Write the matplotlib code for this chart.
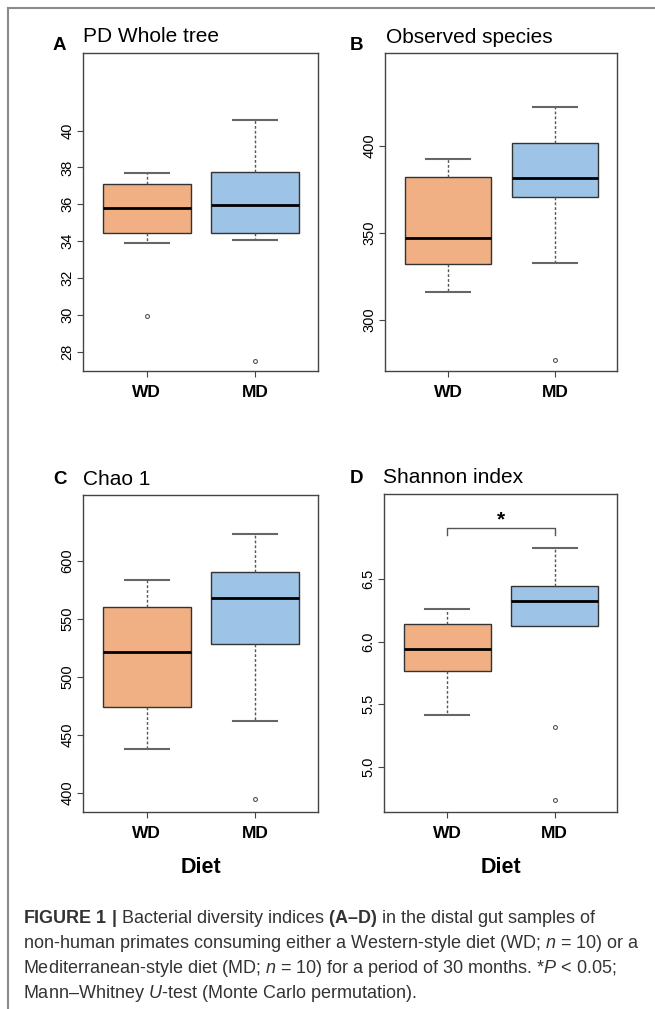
import matplotlib
matplotlib.use('Agg')
import matplotlib.pyplot as plt
from matplotlib.lines import Line2D

plt.rcParams['font.family'] = ['Liberation Sans', 'DejaVu Sans']
plt.rcParams['mathtext.fontset'] = 'custom'
plt.rcParams['mathtext.rm'] = 'Liberation Sans'
plt.rcParams['mathtext.it'] = 'Liberation Sans:italic'
plt.rcParams['mathtext.bf'] = 'Liberation Sans:bold'

# Groups
groups = ['WD', 'MD']

# Box statistics: [whislo, q1, med, q3, whishi]
pd_wd = [33.89, 34.43, 35.78, 37.08, 37.68]
pd_md = [34.05, 34.43, 35.95, 37.73, 40.59]
pd_fliers = [[29.95], [27.51]]

obs_wd = [316.1, 332.2, 347.1, 382.2, 392.5]
obs_md = [332.8, 370.7, 381.6, 401.7, 422.4]
obs_fliers = [[], [277.0]]

chao_wd = [438.0, 474.2, 521.5, 560.4, 583.5]
chao_md = [462.3, 528.1, 568.0, 590.2, 623.1]
chao_fliers = [[], [394.5]]

sh_wd = [5.417, 5.77, 5.943, 6.142, 6.261]
sh_md = [6.128, 6.128, 6.327, 6.444, 6.752]
sh_fliers = [[], [5.318, 4.735]]

# y ticks per panel
pd_ticks = [28, 30, 32, 34, 36, 38, 40]
obs_ticks = [300, 350, 400]
chao_ticks = [400, 450, 500, 550, 600]
sh_ticks = [5.0, 5.5, 6.0, 6.5]

colors = ['#F0B083', '#9DC3E6']

W, H = 655, 1009
fig = plt.figure(figsize=(W / 100, H / 100), dpi=100)


def px_axes(left, top, right, bottom):
    return fig.add_axes([left / W, 1 - bottom / H, (right - left) / W, (bottom - top) / H])


def make_stats(wd, md, fliers):
    stats = []
    for vals, fl, name in zip([wd, md], fliers, groups):
        stats.append(dict(whislo=vals[0], q1=vals[1], med=vals[2], q3=vals[3],
                          whishi=vals[4], fliers=fl, label=name))
    return stats


def draw_panel(ax, wd, md, fliers, ticks, ylim, ticklabels=None):
    stats = make_stats(wd, md, fliers)
    bp = ax.bxp(stats, positions=[1, 2], widths=0.81,
                capwidths=0.41, patch_artist=True,
                boxprops=dict(edgecolor='#333333', linewidth=1.0),
                medianprops=dict(color='black', linewidth=2.0),
                whiskerprops=dict(color='#555555', linewidth=1.0, linestyle=(0, (2, 1.5))),
                capprops=dict(color='#666666', linewidth=1.5),
                flierprops=dict(marker='o', markersize=2.8, markerfacecolor='none',
                                markeredgecolor='#555555', markeredgewidth=0.8))
    for patch, c in zip(bp['boxes'], colors):
        patch.set_facecolor(c)
    # no lower whisker when it sits on the box
    for i, s in enumerate(stats):
        if s['whislo'] >= s['q1']:
            bp['caps'][2 * i].set_visible(False)
            bp['whiskers'][2 * i].set_visible(False)
    ax.set_xlim(0.41, 2.58)
    ax.set_ylim(*ylim)
    ax.set_yticks(ticks)
    if ticklabels is not None:
        ax.set_yticklabels(ticklabels)
    ax.set_xticks([1, 2])
    ax.set_xticklabels(groups, fontsize=12.5, fontweight='bold')
    ax.tick_params(axis='y', labelrotation=90, labelsize=10.5, length=4, color='#444444', pad=2)
    ax.tick_params(axis='x', length=4, color='#444444', pad=6)
    for lab in ax.get_yticklabels():
        lab.set_va('center')
    for sp in ax.spines.values():
        sp.set_color('#444444')
        sp.set_linewidth(1.0)


# Panels
axA = px_axes(83, 53, 318, 371)
draw_panel(axA, pd_wd, pd_md, pd_fliers, pd_ticks, (26.97, 44.2))

axB = px_axes(385, 53, 617, 371)
draw_panel(axB, obs_wd, obs_md, obs_fliers, obs_ticks, (270.7, 453.4))

axC = px_axes(83, 495, 318, 812)
draw_panel(axC, chao_wd, chao_md, chao_fliers, chao_ticks, (383.5, 657.0))

axD = px_axes(384, 494, 617, 812)
draw_panel(axD, sh_wd, sh_md, sh_fliers, sh_ticks, (4.64, 7.18),
           ticklabels=['5.0', '5.5', '6.0', '6.5'])

# significance bracket on panel D
axD.plot([1, 1, 2, 2], [6.853, 6.911, 6.911, 6.853], color='#555555', lw=1.0,
         solid_joinstyle='round')
axD.text(1.5, 6.975, '*', ha='center', va='center', fontsize=15, fontweight='bold')


# Panel letters and titles (figure pixel positions)
def fig_text(x, y, s, **kw):
    fig.text(x / W, 1 - y / H, s, **kw)


fig_text(53, 50, 'A', fontsize=13.5, fontweight='bold', va='baseline')
fig_text(83, 42, 'PD Whole tree', fontsize=15, va='baseline')
fig_text(350, 50, 'B', fontsize=13.5, fontweight='bold', va='baseline')
fig_text(386, 43, 'Observed species', fontsize=15, va='baseline')
fig_text(53, 484, 'C', fontsize=13.5, fontweight='bold', va='baseline')
fig_text(83, 485, 'Chao 1', fontsize=15, va='baseline')
fig_text(350, 483, 'D', fontsize=13.5, fontweight='bold', va='baseline')
fig_text(383, 483, 'Shannon index', fontsize=15, va='baseline')

fig_text(200.5, 873, 'Diet', fontsize=15.5, fontweight='bold', ha='center', va='baseline')
fig_text(500.5, 873, 'Diet', fontsize=15.5, fontweight='bold', ha='center', va='baseline')

# Frame lines (top and left)
fig.add_artist(Line2D([8 / W, 1], [1 - 8 / H, 1 - 8 / H], color='#8a8a8a', lw=1.5))
fig.add_artist(Line2D([8 / W, 8 / W], [0, 1 - 8 / H], color='#8a8a8a', lw=1.5))

# Caption
caption = [
    r'$\mathbf{FIGURE\ 1\ |}$ Bacterial diversity indices $\mathbf{(A–D)}$ in the distal gut samples of',
    r'non-human primates consuming either a Western-style diet (WD; $\mathit{n}$ = 10) or a',
    r'Mediterranean-style diet (MD; $\mathit{n}$ = 10) for a period of 30 months. *$\mathit{P}$ < 0.05;',
    r'Mann–Whitney $\mathit{U}$-test (Monte Carlo permutation).',
]
for i, line in enumerate(caption):
    fig_text(23, 923 + 25 * i, line, fontsize=13, color='#333333', va='baseline')

fig.savefig('out.png', dpi=100)
